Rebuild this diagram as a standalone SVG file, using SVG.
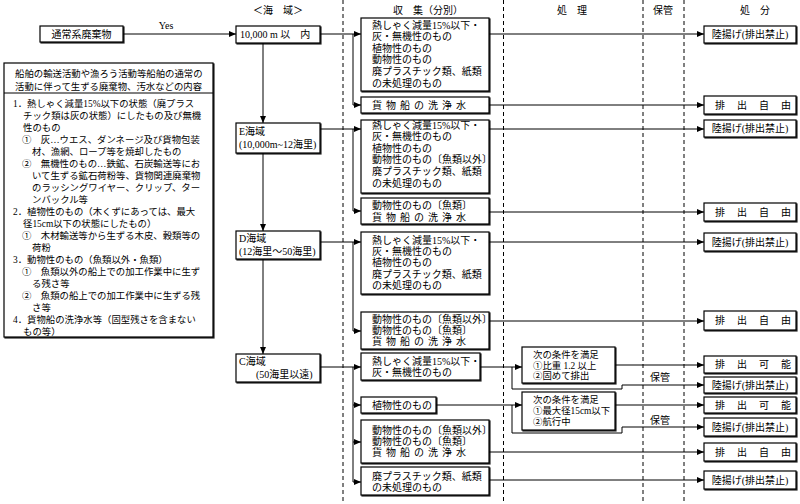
<svg xmlns="http://www.w3.org/2000/svg" width="800" height="504" viewBox="0 0 800 504">
<defs>
<style>
text{font-family:"Liberation Serif","Noto Sans CJK JP",serif;font-size:10px;fill:#000}
.s{font-size:9.4px}
.c{text-anchor:middle}
.box{fill:#fff;stroke:#000;stroke-width:1.2;filter:url(#sh)}
.ln{fill:none;stroke:#000;stroke-width:1}
.arr{fill:none;stroke:#000;stroke-width:1;marker-end:url(#ah)}
.dash{stroke:#000;stroke-width:1;stroke-dasharray:4 3}
</style>
<filter id="sh" x="-5%" y="-5%" width="115%" height="130%"><feDropShadow dx="1" dy="1" stdDeviation="0" flood-color="#000" flood-opacity="0.85"/></filter>
<marker id="ah" viewBox="0 0 7 6" markerWidth="7" markerHeight="6" refX="7" refY="3" orient="auto" markerUnits="userSpaceOnUse"><path d="M0,0 L7,3 L0,6 z" fill="#000"/></marker>
</defs>
<rect width="800" height="504" fill="#fff"/>

<g id="dividers">
<line class="dash" x1="343" y1="0" x2="343" y2="504"/>
<line class="dash" x1="503.5" y1="0" x2="503.5" y2="504"/>
<line class="dash" x1="643" y1="0" x2="643" y2="504"/>
<line class="dash" x1="684" y1="0" x2="684" y2="504"/>
</g>

<g id="headers">
<text class="c" x="278" y="14">＜海　域＞</text>
<text class="c" x="428" y="14">収　集（分別）</text>
<text class="c" x="572" y="14">処　理</text>
<text class="c" x="663" y="14">保管</text>
<text class="c" x="755" y="14">処　分</text>
</g>

<g id="connectors">
<line class="arr" x1="123" y1="34" x2="236" y2="34"/>
<line class="arr" x1="263" y1="43" x2="263" y2="123"/>
<line class="arr" x1="263" y1="153" x2="263" y2="231"/>
<line class="arr" x1="263" y1="259" x2="263" y2="354"/>
<line class="arr" x1="320" y1="34" x2="361" y2="34"/>
<polyline class="arr" points="353,34 353,105 361,105"/>
<line class="arr" x1="320" y1="129" x2="361" y2="129"/>
<polyline class="arr" points="353,129 353,211 361,211"/>
<line class="arr" x1="320" y1="242" x2="361" y2="242"/>
<polyline class="arr" points="353,242 353,331 361,331"/>
<line class="arr" x1="320" y1="367" x2="361" y2="367"/>
<polyline class="arr" points="353,367 353,482 361,482"/>
<line class="arr" x1="353" y1="405" x2="361" y2="405"/>
<line class="arr" x1="353" y1="442" x2="361" y2="442"/>
<line class="arr" x1="489" y1="34" x2="704" y2="34"/>
<line class="arr" x1="489" y1="105" x2="704" y2="105"/>
<line class="arr" x1="489" y1="129" x2="704" y2="129"/>
<line class="arr" x1="489" y1="212" x2="704" y2="212"/>
<line class="arr" x1="489" y1="242" x2="704" y2="242"/>
<line class="arr" x1="489" y1="321" x2="704" y2="321"/>
<line class="arr" x1="480" y1="367" x2="522" y2="367"/>
<polyline class="arr" points="512,367 512,389 622,389 622,385 704,385"/>
<line class="arr" x1="615" y1="365" x2="704" y2="365"/>
<line class="arr" x1="436" y1="405" x2="522" y2="405"/>
<polyline class="arr" points="512,405 512,433 622,433 622,427 704,427"/>
<line class="arr" x1="615" y1="405" x2="704" y2="405"/>
<line class="arr" x1="489" y1="452" x2="704" y2="452"/>
<line class="arr" x1="489" y1="480" x2="704" y2="480"/>
<text x="166" y="29" class="c">Yes</text>
<text x="660" y="381" class="c">保管</text>
<text x="660" y="424" class="c">保管</text>
</g>

<g id="n-source">
<rect class="box" x="40" y="26" width="83" height="16"/>
<text class="c" x="81.5" y="37.5">通常系廃棄物</text>
</g>

<g id="n-contents">
<rect class="box" x="4" y="63" width="209" height="274"/>
<line class="ln" x1="4" y1="93" x2="213" y2="93"/>
<text class="s" x="15" y="76.5">船舶の輸送活動や漁ろう活動等船舶の通常の</text>
<text class="s" x="15" y="89.5">活動に伴って生ずる廃棄物、汚水などの内容</text>
<text class="s" x="13" y="106.5">1．熱しゃく減量15%以下の状態（廃プラス</text>
<text class="s" x="23" y="118.5">チック類は灰の状態）にしたもの及び無機</text>
<text class="s" x="23" y="130.5">性のもの</text>
<text class="s" x="22" y="142.5">①　灰…ウエス、ダンネージ及び貨物包装</text>
<text class="s" x="32" y="154.5">材、漁網、ロープ等を焼却したもの</text>
<text class="s" x="22" y="166.5">②　無機性のもの…鉄鉱、石炭輸送等にお</text>
<text class="s" x="32" y="178.5">いて生ずる鉱石荷粉等、貨物関連廃棄物</text>
<text class="s" x="32" y="190.5">のラッシングワイヤー、クリップ、ター</text>
<text class="s" x="32" y="202.5">ンバックル等</text>
<text class="s" x="13" y="214.5">2．植物性のもの（木くずにあっては、最大</text>
<text class="s" x="23" y="226.5">径15cm以下の状態にしたもの）</text>
<text class="s" x="22" y="238.5">①　木材輸送等から生ずる木皮、穀類等の</text>
<text class="s" x="32" y="250.5">荷粉</text>
<text class="s" x="13" y="262.5">3．動物性のもの（魚類以外・魚類）</text>
<text class="s" x="22" y="274.5">①　魚類以外の船上での加工作業中に生ず</text>
<text class="s" x="32" y="286.5">る残さ等</text>
<text class="s" x="22" y="298.5">②　魚類の船上での加工作業中に生ずる残</text>
<text class="s" x="32" y="310.5">さ等</text>
<text class="s" x="13" y="322.5">4．貨物船の洗浄水等（固型残さを含まない</text>
<text class="s" x="23" y="334.5">もの等）</text>
</g>

<g id="n-area-10k">
<rect class="box" x="236" y="26" width="84" height="17"/>
<text x="240" y="38">10,000 m 以　内</text>
</g>
<g id="n-area-E">
<rect class="box" x="236" y="123" width="84" height="30"/>
<text x="239" y="135">E海域</text>
<text x="239" y="148">(10,000m~12海里)</text>
</g>
<g id="n-area-D">
<rect class="box" x="236" y="231" width="84" height="28"/>
<text x="239" y="242">D海域</text>
<text x="239" y="255">(12海里～50海里)</text>
</g>
<g id="n-area-C">
<rect class="box" x="236" y="354" width="84" height="28"/>
<text x="239" y="365">C海域</text>
<text x="256" y="378">(50海里以遠)</text>
</g>

<g id="n-k1">
<rect class="box" x="361" y="18" width="128" height="73"/>
<text x="372" y="28.5">熱しゃく減量15%以下・</text>
<text x="372" y="40.1">灰・無機性のもの</text>
<text x="372" y="51.7">植物性のもの</text>
<text x="372" y="63.3">動物性のもの</text>
<text x="372" y="74.9">廃プラスチック類、紙類</text>
<text x="372" y="86.5">の未処理のもの</text>
</g>
<g id="n-k2">
<rect class="box" x="361" y="97" width="128" height="16"/>
<text x="372" y="108.5" textLength="94" lengthAdjust="spacing">貨物船の洗浄水</text>
</g>
<g id="n-k3">
<rect class="box" x="361" y="120" width="128" height="73"/>
<text x="372" y="128.5">熱しゃく減量15%以下・</text>
<text x="372" y="140.1">灰・無機性のもの</text>
<text x="372" y="151.7">植物性のもの</text>
<text x="372" y="163.3">動物性のもの〔魚類以外〕</text>
<text x="372" y="174.9">廃プラスチック類、紙類</text>
<text x="372" y="186.5">の未処理のもの</text>
</g>
<g id="n-k4">
<rect class="box" x="361" y="198" width="128" height="26"/>
<text x="372" y="208.5">動物性のもの〔魚類〕</text>
<text x="372" y="220.5" textLength="94" lengthAdjust="spacing">貨物船の洗浄水</text>
</g>
<g id="n-k5">
<rect class="box" x="361" y="232" width="128" height="62"/>
<text x="372" y="243.5">熱しゃく減量15%以下・</text>
<text x="372" y="254.9">灰・無機性のもの</text>
<text x="372" y="266.3">植物性のもの</text>
<text x="372" y="277.7">廃プラスチック類、紙類</text>
<text x="372" y="289.1">の未処理のもの</text>
</g>
<g id="n-k6">
<rect class="box" x="361" y="312" width="128" height="37"/>
<text x="372" y="323">動物性のもの〔魚類以外〕</text>
<text x="372" y="334">動物性のもの〔魚類〕</text>
<text x="372" y="345" textLength="94" lengthAdjust="spacing">貨物船の洗浄水</text>
</g>
<g id="n-c1">
<rect class="box" x="361" y="353" width="119" height="27"/>
<text x="372" y="365">熱しゃく減量15%以下・</text>
<text x="372" y="376">灰・無機性のもの</text>
</g>
<g id="n-c2">
<rect class="box" x="361" y="397" width="75" height="16"/>
<text x="372" y="408.5">植物性のもの</text>
</g>
<g id="n-c3">
<rect class="box" x="361" y="420" width="128" height="43"/>
<text x="372" y="433.5">動物性のもの〔魚類以外〕</text>
<text x="372" y="444.5">動物性のもの〔魚類〕</text>
<text x="372" y="456" textLength="94" lengthAdjust="spacing">貨物船の洗浄水</text>
</g>
<g id="n-c4">
<rect class="box" x="361" y="467" width="128" height="28"/>
<text x="372" y="479.5">廃プラスチック類、紙類</text>
<text x="372" y="491">の未処理のもの</text>
</g>

<g id="n-cond1">
<rect class="box" x="522" y="347" width="93" height="36"/>
<text class="s" x="533" y="358">次の条件を満足</text>
<text class="s" x="533" y="368.5">①比重 1.2 以上</text>
<text class="s" x="533" y="379">②固めて排出</text>
</g>
<g id="n-cond2">
<rect class="box" x="522" y="392" width="93" height="38"/>
<text class="s" x="533" y="403">次の条件を満足</text>
<text class="s" x="533" y="414">①最大径15cm以下</text>
<text class="s" x="533" y="425">②航行中</text>
</g>

<g id="n-r1"><rect class="box" x="704" y="26" width="92" height="17"/><text class="c" x="750" y="38">陸揚げ(排出禁止)</text></g>
<g id="n-r2"><rect class="box" x="704" y="96" width="92" height="18"/><text x="715" y="108.5" textLength="76" lengthAdjust="spacing">排出自由</text></g>
<g id="n-r3"><rect class="box" x="704" y="120" width="92" height="17"/><text class="c" x="750" y="132">陸揚げ(排出禁止)</text></g>
<g id="n-r4"><rect class="box" x="704" y="203" width="92" height="18"/><text x="715" y="215.5" textLength="76" lengthAdjust="spacing">排出自由</text></g>
<g id="n-r5"><rect class="box" x="704" y="233" width="92" height="18"/><text class="c" x="750" y="245.5">陸揚げ(排出禁止)</text></g>
<g id="n-r6"><rect class="box" x="704" y="311" width="92" height="19"/><text x="715" y="324" textLength="76" lengthAdjust="spacing">排出自由</text></g>
<g id="n-r7"><rect class="box" x="704" y="356" width="92" height="17"/><text x="715" y="368" textLength="76" lengthAdjust="spacing">排出可能</text></g>
<g id="n-r8"><rect class="box" x="704" y="377" width="92" height="16"/><text class="c" x="750" y="388.5">陸揚げ(排出禁止)</text></g>
<g id="n-r9"><rect class="box" x="704" y="397" width="92" height="16"/><text x="715" y="408.5" textLength="76" lengthAdjust="spacing">排出可能</text></g>
<g id="n-r10"><rect class="box" x="704" y="418" width="92" height="18"/><text class="c" x="750" y="430.5">陸揚げ(排出禁止)</text></g>
<g id="n-r11"><rect class="box" x="704" y="443" width="92" height="18"/><text x="715" y="455.5" textLength="76" lengthAdjust="spacing">排出自由</text></g>
<g id="n-r12"><rect class="box" x="704" y="471" width="92" height="18"/><text class="c" x="750" y="483.5">陸揚げ(排出禁止)</text></g>
</svg>
